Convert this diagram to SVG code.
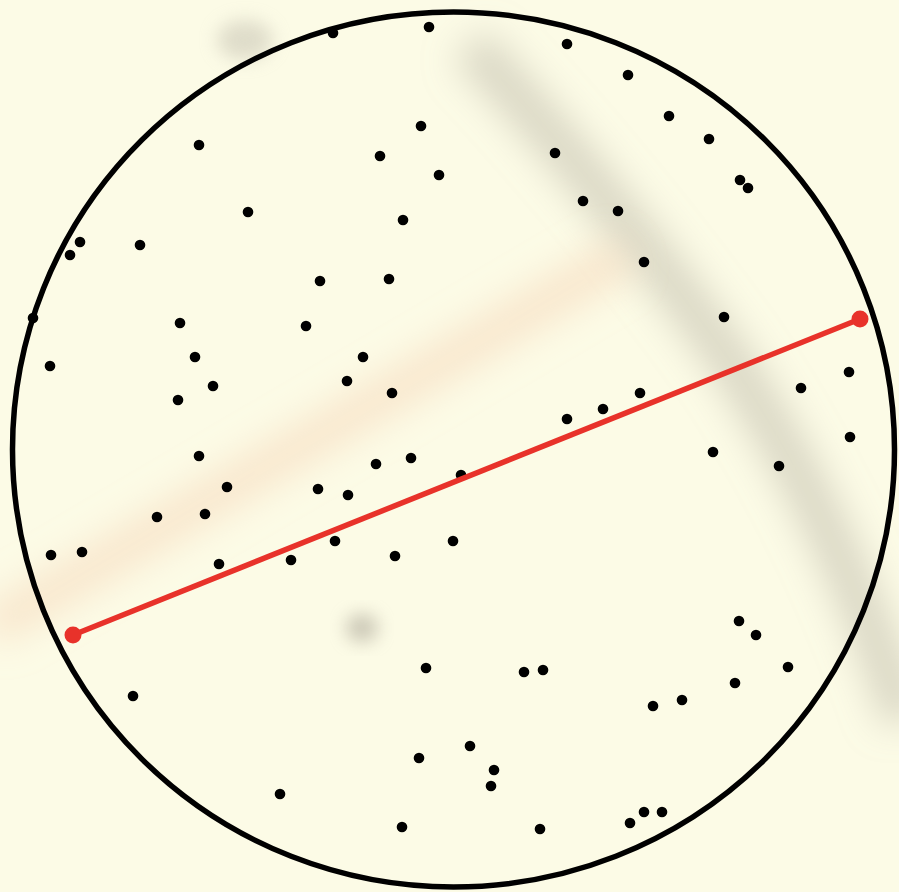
<svg xmlns="http://www.w3.org/2000/svg" width="899" height="892" viewBox="0 0 899 892">
<defs>
<filter id="b1" x="-50%" y="-50%" width="200%" height="200%"><feGaussianBlur stdDeviation="18"/></filter>
<filter id="b2" x="-50%" y="-50%" width="200%" height="200%"><feGaussianBlur stdDeviation="9"/></filter>
<style>
.d{fill:#000}
.r{fill:#E8322A}
</style>
</defs>
<rect width="899" height="892" fill="#FCFBE6"/>
<g id="shadows">
<path d="M 470 45 C 560 140 650 250 730 360 C 790 450 850 560 905 720" fill="none" stroke="#B8B4A4" stroke-width="44" stroke-opacity="0.5" filter="url(#b1)"/>
<ellipse cx="245" cy="40" rx="28" ry="20" fill="#C8C4B4" opacity="0.55" filter="url(#b2)"/>
<path d="M -10 628 L 625 255" stroke="#F6D2B4" stroke-width="40" stroke-opacity="0.5" filter="url(#b1)"/>
<ellipse cx="362" cy="628" rx="16" ry="14" fill="#B0AC9C" opacity="0.65" filter="url(#b2)"/>
</g>
<g id="circle">
<ellipse cx="453.5" cy="449.5" rx="441" ry="437.5" fill="none" stroke="#000" stroke-width="5.5"/>
</g>
<g id="points">
<circle class="d" cx="333" cy="33" r="5.3"/>
<circle class="d" cx="429" cy="27" r="5.3"/>
<circle class="d" cx="421" cy="126" r="5.3"/>
<circle class="d" cx="380" cy="156" r="5.3"/>
<circle class="d" cx="439" cy="175" r="5.3"/>
<circle class="d" cx="199" cy="145" r="5.3"/>
<circle class="d" cx="248" cy="212" r="5.3"/>
<circle class="d" cx="403" cy="220" r="5.3"/>
<circle class="d" cx="80" cy="242" r="5.3"/>
<circle class="d" cx="70" cy="255" r="5.3"/>
<circle class="d" cx="140" cy="245" r="5.3"/>
<circle class="d" cx="320" cy="281" r="5.3"/>
<circle class="d" cx="389" cy="279" r="5.3"/>
<circle class="d" cx="567" cy="44" r="5.3"/>
<circle class="d" cx="628" cy="75" r="5.3"/>
<circle class="d" cx="669" cy="116" r="5.3"/>
<circle class="d" cx="709" cy="139" r="5.3"/>
<circle class="d" cx="555" cy="153" r="5.3"/>
<circle class="d" cx="740" cy="180" r="5.3"/>
<circle class="d" cx="748" cy="188" r="5.3"/>
<circle class="d" cx="583" cy="201" r="5.3"/>
<circle class="d" cx="618" cy="211" r="5.3"/>
<circle class="d" cx="644" cy="262" r="5.3"/>
<circle class="d" cx="33" cy="318" r="5.3"/>
<circle class="d" cx="180" cy="323" r="5.3"/>
<circle class="d" cx="306" cy="326" r="5.3"/>
<circle class="d" cx="50" cy="366" r="5.3"/>
<circle class="d" cx="195" cy="357" r="5.3"/>
<circle class="d" cx="363" cy="357" r="5.3"/>
<circle class="d" cx="213" cy="386" r="5.3"/>
<circle class="d" cx="347" cy="381" r="5.3"/>
<circle class="d" cx="178" cy="400" r="5.3"/>
<circle class="d" cx="392" cy="393" r="5.3"/>
<circle class="d" cx="199" cy="456" r="5.3"/>
<circle class="d" cx="411" cy="458" r="5.3"/>
<circle class="d" cx="376" cy="464" r="5.3"/>
<circle class="d" cx="227" cy="487" r="5.3"/>
<circle class="d" cx="318" cy="489" r="5.3"/>
<circle class="d" cx="348" cy="495" r="5.3"/>
<circle class="d" cx="157" cy="517" r="5.3"/>
<circle class="d" cx="205" cy="514" r="5.3"/>
<circle class="d" cx="51" cy="555" r="5.3"/>
<circle class="d" cx="82" cy="552" r="5.3"/>
<circle class="d" cx="219" cy="564" r="5.3"/>
<circle class="d" cx="291" cy="560" r="5.3"/>
<circle class="d" cx="335" cy="541" r="5.3"/>
<circle class="d" cx="395" cy="556" r="5.3"/>
<circle class="d" cx="453" cy="541" r="5.3"/>
<circle class="d" cx="724" cy="317" r="5.3"/>
<circle class="d" cx="849" cy="372" r="5.3"/>
<circle class="d" cx="801" cy="388" r="5.3"/>
<circle class="d" cx="640" cy="393" r="5.3"/>
<circle class="d" cx="603" cy="409" r="5.3"/>
<circle class="d" cx="567" cy="419" r="5.3"/>
<circle class="d" cx="461" cy="475" r="5.3"/>
<circle class="d" cx="713" cy="452" r="5.3"/>
<circle class="d" cx="779" cy="466" r="5.3"/>
<circle class="d" cx="850" cy="437" r="5.3"/>
<circle class="d" cx="133" cy="696" r="5.3"/>
<circle class="d" cx="426" cy="668" r="5.3"/>
<circle class="d" cx="419" cy="758" r="5.3"/>
<circle class="d" cx="280" cy="794" r="5.3"/>
<circle class="d" cx="402" cy="827" r="5.3"/>
<circle class="d" cx="739" cy="621" r="5.3"/>
<circle class="d" cx="756" cy="635" r="5.3"/>
<circle class="d" cx="788" cy="667" r="5.3"/>
<circle class="d" cx="735" cy="683" r="5.3"/>
<circle class="d" cx="524" cy="672" r="5.3"/>
<circle class="d" cx="543" cy="670" r="5.3"/>
<circle class="d" cx="653" cy="706" r="5.3"/>
<circle class="d" cx="682" cy="700" r="5.3"/>
<circle class="d" cx="470" cy="746" r="5.3"/>
<circle class="d" cx="494" cy="770" r="5.3"/>
<circle class="d" cx="491" cy="786" r="5.3"/>
<circle class="d" cx="540" cy="829" r="5.3"/>
<circle class="d" cx="630" cy="823" r="5.3"/>
<circle class="d" cx="644" cy="812" r="5.3"/>
<circle class="d" cx="662" cy="812" r="5.3"/>
</g>
<g id="diameter">
<line x1="73" y1="635" x2="860" y2="319" stroke="#E8322A" stroke-width="5.5"/>
<circle class="r" cx="73" cy="635" r="8.5"/>
<circle class="r" cx="860" cy="319" r="8.5"/>
</g>
</svg>
